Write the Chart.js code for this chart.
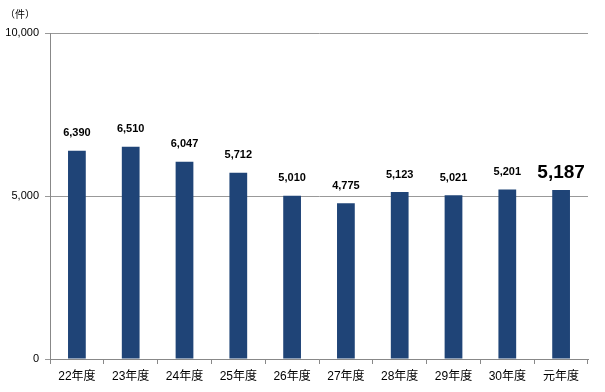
<!DOCTYPE html>
<html>
<head>
<meta charset="utf-8">
<script src="https://cdn.jsdelivr.net/npm/chart.js@4"></script>
<style>
  html, body { margin: 0; padding: 0; background: #fff; }
  #wrap { width: 605px; height: 392px; }
</style>
</head>
<body>
<div id="wrap"><canvas id="countChart" width="605" height="392"></canvas></div>
<script>
const years = ['22年度', '23年度', '24年度', '25年度', '26年度', '27年度', '28年度', '29年度', '30年度', '元年度'];
const counts = [6390, 6510, 6047, 5712, 5010, 4775, 5123, 5021, 5201, 5187];
const yTicks = [0, 5000, 10000];
const unitLabel = '（件）';

const jpFont = '"Liberation Sans", "Noto Sans CJK JP", sans-serif';

// values above each bar, the latest year drawn larger
const valueLabels = {
  id: 'valueLabels',
  afterDatasetsDraw(chart) {
    const ctx = chart.ctx;
    const meta = chart.getDatasetMeta(0);
    ctx.save();
    ctx.fillStyle = '#000';
    ctx.textAlign = 'center';
    ctx.textBaseline = 'bottom';
    meta.data.forEach(function (bar, i) {
      const last = i === counts.length - 1;
      ctx.font = (last ? 'bold 19px ' : 'bold 11px ') + jpFont;
      ctx.fillText(counts[i].toLocaleString('en-US'), bar.x, bar.y - (last ? 8 : 12));
    });
    // unit label above the y axis
    ctx.font = '10px ' + jpFont;
    ctx.textAlign = 'center';
    ctx.textBaseline = 'middle';
    ctx.fillText(unitLabel, 20, 15);
    ctx.restore();
  }
};

new Chart(document.getElementById('countChart'), {
  type: 'bar',
  data: {
    labels: years,
    datasets: [{
      data: counts,
      backgroundColor: '#1f4477',
      borderWidth: 0,
      barPercentage: 0.66,
      categoryPercentage: 0.5
    }]
  },
  options: {
    responsive: false,
    animation: false,
    layout: { padding: { top: 33, right: 17, left: 0, bottom: 0 } },
    plugins: {
      legend: { display: false },
      tooltip: { enabled: false }
    },
    scales: {
      x: {
        afterFit(scale) { scale.height = 33; },
        border: { color: '#888', width: 1 },
        grid: { drawOnChartArea: false, tickLength: 5, color: '#888' },
        ticks: {
          color: '#000',
          padding: 5,
          font: { family: jpFont, size: 12 },
          maxRotation: 0
        }
      },
      y: {
        min: 0,
        max: 10000,
        afterFit(scale) { scale.width = 50; },
        afterBuildTicks(scale) { scale.ticks = yTicks.map(function (v) { return { value: v }; }); },
        border: { color: '#888', width: 1 },
        grid: { color: '#999', tickLength: 5 },
        ticks: {
          color: '#000',
          padding: 6,
          font: { family: jpFont, size: 11 },
          callback: function (v) { return v.toLocaleString('en-US'); }
        }
      }
    }
  },
  plugins: [valueLabels]
});
</script>
</body>
</html>
